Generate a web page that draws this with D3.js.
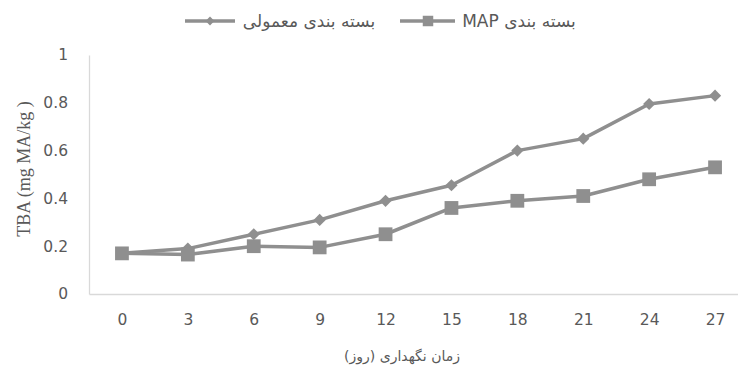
<!DOCTYPE html>
<html>
<head>
<meta charset="utf-8">
<script src="https://cdn.jsdelivr.net/npm/d3@7/dist/d3.min.js"></script>
<style>
  html, body { margin: 0; padding: 0; background: #fff; }
  svg { display: block; }
</style>
</head>
<body>
<svg id="chart" width="738" height="367"></svg>
<script>
// Storage time (days)
const days = ["0", "3", "6", "9", "12", "15", "18", "21", "24", "27"];
// TBA values, conventional packaging
const normalValues = [0.17, 0.19, 0.25, 0.31, 0.39, 0.455, 0.60, 0.65, 0.795, 0.83];
// TBA values, MAP packaging
const mapValues = [0.17, 0.165, 0.20, 0.195, 0.25, 0.36, 0.39, 0.41, 0.48, 0.53];
const yTicks = [0, 0.2, 0.4, 0.6, 0.8, 1];
const seriesNames = ["بسته بندی معمولی", "بسته بندی MAP"];
const yTitle = "TBA (mg MA/kg )";
const xTitle = "زمان نگهداری (روز)";

const svg = d3.select("#chart");
const grey = "#8f8f8f";
const textGrey = "#595959";
const axisGrey = "#d9d9d9";

const x = d3.scalePoint().domain(days).range([89, 748]).padding(0.5);
const y = d3.scaleLinear().domain([0, 1]).range([294, 55]);

// axes
const yAxis = svg.append("g").attr("transform", "translate(89,0)")
  .call(d3.axisLeft(y).tickValues(yTicks).tickSize(0).tickPadding(21)
    .tickFormat(d => d3.format("")(+d.toFixed(1))));
const xAxis = svg.append("g").attr("transform", "translate(0,294)")
  .call(d3.axisBottom(x).tickSize(0).tickPadding(20));
[xAxis, yAxis].forEach(g => {
  g.select(".domain").attr("stroke", axisGrey).attr("stroke-width", 1.3);
  g.selectAll("text").attr("fill", textGrey)
    .style("font-family", "'DejaVu Sans', sans-serif").style("font-size", "15.5px");
});

// axis titles
svg.append("text")
  .attr("transform", "translate(24,169) rotate(-90)")
  .attr("text-anchor", "middle").attr("dominant-baseline", "central")
  .attr("fill", textGrey)
  .style("font-family", "'Liberation Serif', serif").style("font-size", "18px")
  .text(yTitle);
svg.append("text")
  .attr("x", 402).attr("y", 356)
  .attr("text-anchor", "middle").attr("dominant-baseline", "central")
  .attr("direction", "rtl")
  .attr("fill", textGrey)
  .style("font-family", "'DejaVu Sans', sans-serif").style("font-size", "14px")
  .text(xTitle);

const line = d3.line().x((d, i) => x(days[i])).y(d => y(d));

function drawSeries(values, marker) {
  svg.append("path").datum(values)
    .attr("fill", "none").attr("stroke", grey).attr("stroke-width", 3.5)
    .attr("stroke-linejoin", "round")
    .attr("d", line);
  svg.append("g").selectAll("path").data(values).join("path")
    .attr("transform", (d, i) => `translate(${x(days[i])},${y(d)})`)
    .attr("d", marker)
    .attr("fill", grey);
}
const diamond = d3.symbol().type(d3.symbolDiamond2).size(95)();
const square = d3.symbol().type(d3.symbolSquare).size(190)();
drawSeries(normalValues, diamond);
drawSeries(mapValues, square);

// legend
const legend = [
  { name: seriesNames[0], x1: 185, x2: 235, cx: 210, tx: 309, marker: d3.symbol().type(d3.symbolDiamond2).size(50)() },
  { name: seriesNames[1], x1: 400, x2: 455, cx: 428, tx: 519, marker: d3.symbol().type(d3.symbolSquare).size(110)() }
];
const lg = svg.append("g").selectAll("g").data(legend).join("g");
lg.append("line").attr("x1", d => d.x1).attr("x2", d => d.x2)
  .attr("y1", 21).attr("y2", 21).attr("stroke", grey).attr("stroke-width", 3.5);
lg.append("path").attr("d", d => d.marker)
  .attr("transform", d => `translate(${d.cx},21)`).attr("fill", grey);
lg.append("text").attr("x", d => d.tx).attr("y", 21)
  .attr("text-anchor", "middle").attr("dominant-baseline", "central")
  .attr("direction", "rtl").attr("fill", textGrey)
  .style("font-family", "'DejaVu Sans', sans-serif").style("font-size", "17px")
  .text(d => d.name);
</script>
</body>
</html>
